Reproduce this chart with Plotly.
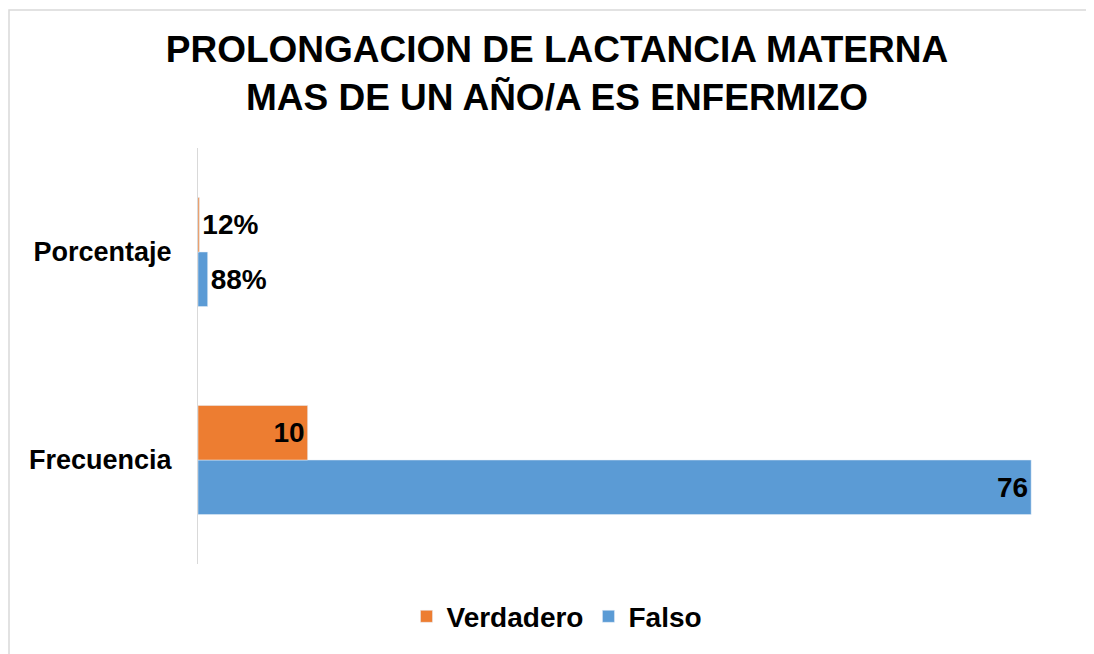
import plotly.graph_objects as go

categories = ["Frecuencia", "Porcentaje"]
falso = [76, 0.88]
verdadero = [10, 0.12]
series_names = ["Verdadero", "Falso"]

def labels(vals):
    out = []
    for c, v in zip(categories, vals):
        out.append(f"{v:.0%}" if c == "Porcentaje" else f"{v:g}")
    return out

# page has an 8px body margin, so the figure is sized/offset accordingly
W, H = 1086, 646
ml, mr, mt, mb = 190, 19, 140, 87
pw, ph = W - ml - mr, H - mt - mb
FONT = "Liberation Sans, Arial, sans-serif"

txtfont = dict(family=FONT, size=28, color="black", weight="bold")

fig = go.Figure()
fig.add_trace(go.Bar(
    y=categories, x=falso, name=series_names[1], orientation="h",
    marker=dict(color="#5B9BD5"), text=labels(falso),
    textposition=["inside", "outside"], insidetextanchor="end",
    textfont=txtfont, outsidetextfont=txtfont, insidetextfont=txtfont,
    cliponaxis=False, legendrank=2,
))
fig.add_trace(go.Bar(
    y=categories, x=verdadero, name=series_names[0], orientation="h",
    marker=dict(color="#ED7D31"), text=labels(verdadero),
    textposition=["inside", "outside"], insidetextanchor="end",
    textfont=txtfont, outsidetextfont=txtfont, insidetextfont=txtfont,
    cliponaxis=False, legendrank=1,
))

fig.update_layout(
    width=W, height=H,
    margin=dict(l=ml, r=mr, t=mt, b=mb),
    paper_bgcolor="white", plot_bgcolor="white",
    barmode="group", bargap=0.476, bargroupgap=0,
    title=dict(
        text="PROLONGACION DE LACTANCIA MATERNA<br>MAS DE UN AÑO/A ES ENFERMIZO",
        x=549 / W, xanchor="center", y=1 - 54 / H, yanchor="middle",
        font=dict(family=FONT, size=37, color="black", weight="bold"),
    ),
    xaxis=dict(range=[0, 80], showticklabels=False, showgrid=False, zeroline=False, ticks=""),
    yaxis=dict(categoryorder="array", categoryarray=categories, showline=True,
               linecolor="#d9d9d9", linewidth=1, ticks="", showgrid=False,
               tickfont=dict(family=FONT, size=27, color="black", weight="bold"),
               ticklabelstandoff=20),
    legend=dict(orientation="h", x=(549 - ml) / pw, xanchor="center", y=(mt + ph - 612) / ph,
                yanchor="middle", font=dict(family=FONT, size=28, color="black", weight="bold"),
                itemwidth=30),
    showlegend=True,
    shapes=[dict(type="rect", xref="paper", yref="paper",
                 x0=(1 - ml) / pw, x1=(W + 20 - ml) / pw,
                 y0=(mt + ph - H - 20) / ph, y1=(mt + ph - 1) / ph,
                 line=dict(color="#d9d9d9", width=1.5), fillcolor="rgba(0,0,0,0)", layer="below")],
)

fig.write_html("out.html")
